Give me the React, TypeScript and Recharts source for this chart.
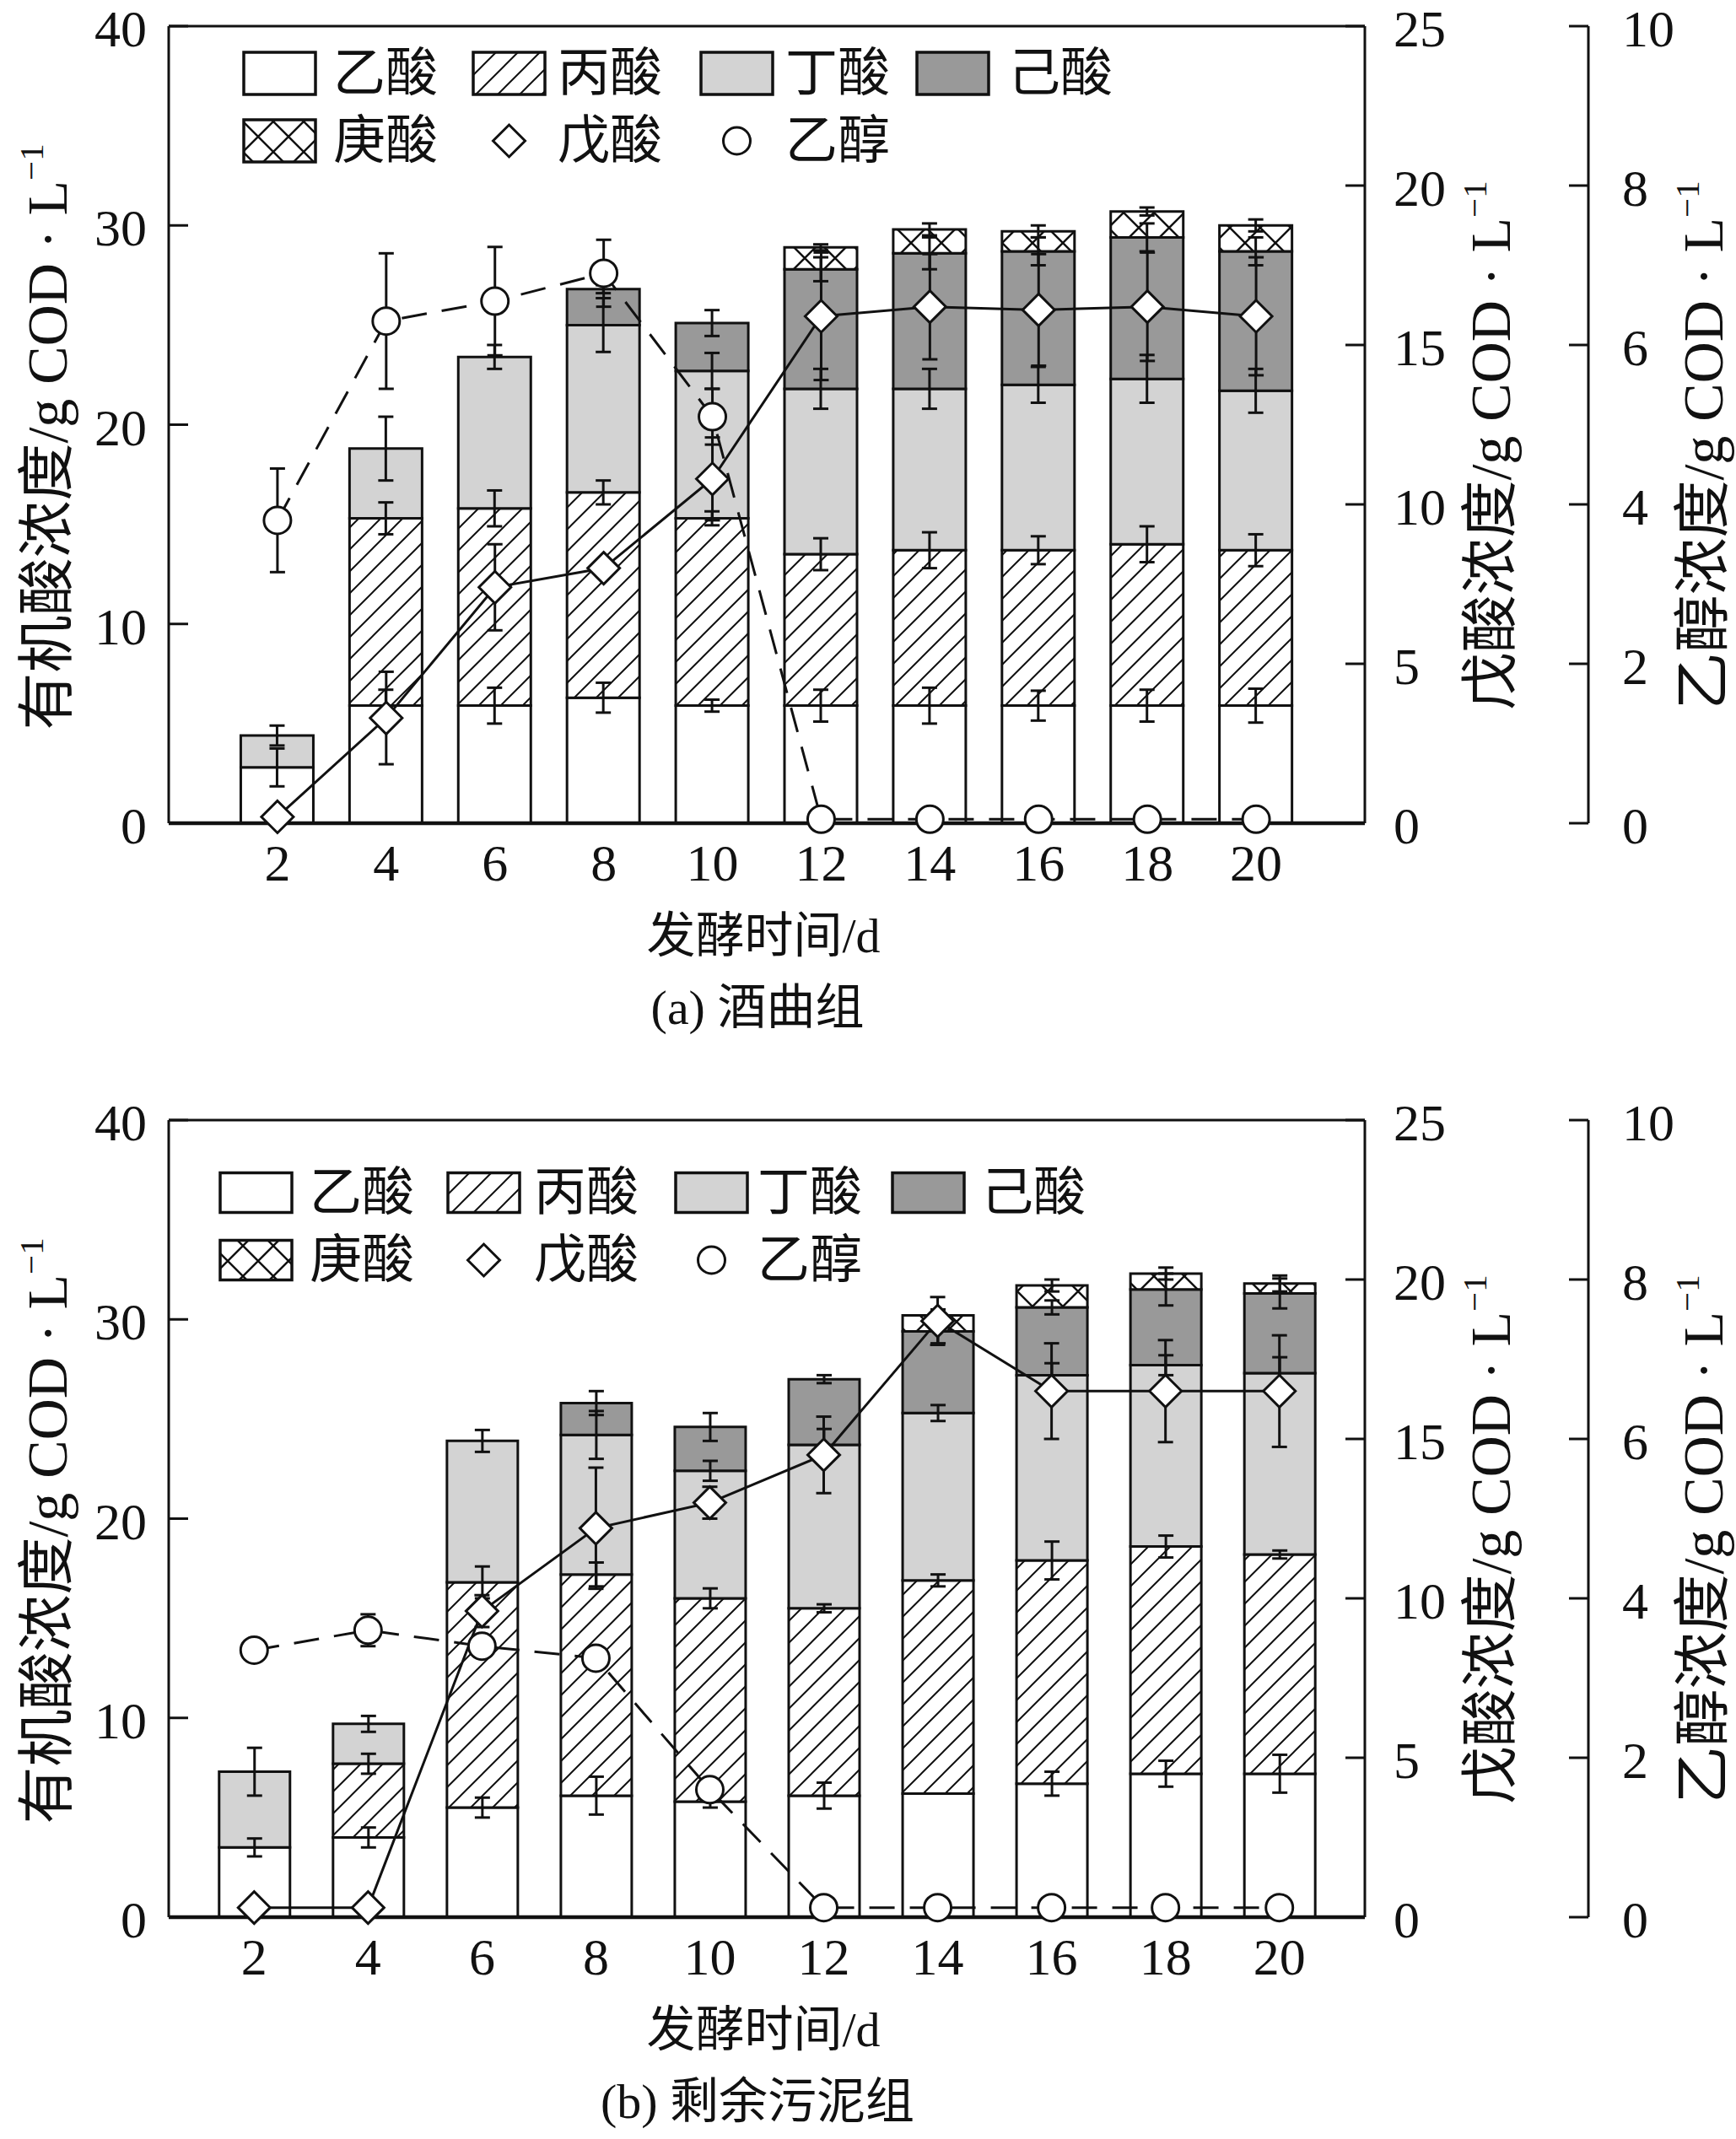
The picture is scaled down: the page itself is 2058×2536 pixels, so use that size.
import React from "react";
import {
  Bar,
  ComposedChart,
  ErrorBar,
  Line,
  ReferenceLine,
  XAxis,
  YAxis,
} from "recharts";

// fermentation days (x axis)
const days = [2, 4, 6, 8, 10, 12, 14, 16, 18, 20];
const leftTicks = [0, 10, 20, 30, 40];
const valTicks = [0, 5, 10, 15, 20, 25];
const ethTicks = [0, 2, 4, 6, 8, 10];
const seriesNames = ["乙酸", "丙酸", "丁酸", "己酸", "庚酸", "戊酸", "乙醇"];

// (a) 酒曲组
const aAcetic = [2.8, 5.9, 5.9, 6.3, 5.9, 5.9, 5.9, 5.9, 5.9, 5.9];
const aAceticErr = [0.95, 0.8, 0.9, 0.75, 0.3, 0.8, 0.9, 0.75, 0.8, 0.85];
const aPropionic = [0, 9.4, 9.9, 10.3, 9.4, 7.6, 7.8, 7.8, 8.1, 7.8];
const aPropionicErr = [0, 0.8, 0.9, 0.6, 0.35, 0.8, 0.9, 0.7, 0.9, 0.8];
const aButyric = [1.6, 3.5, 7.6, 8.4, 7.4, 8.3, 8.1, 8.3, 8.3, 8.0];
const aButyricErr = [0.5, 1.6, 0.6, 1.35, 0.9, 1.0, 1.0, 0.9, 1.2, 1.1];
const aCaproic = [0, 0, 0, 1.8, 2.4, 6.0, 6.8, 6.7, 7.1, 7.0];
const aCaproicErr = [0, 0, 0, 0.2, 0.65, 0.6, 0.8, 0.7, 0.7, 0.7];
const aHeptanoic = [0, 0, 0, 0, 0, 1.1, 1.2, 1.0, 1.3, 1.3];
const aHeptanoicErr = [0, 0, 0, 0, 0, 0.15, 0.3, 0.3, 0.2, 0.3];
const aValerate = [0.2, 3.3, 7.4, 8.0, 10.8, 15.9, 16.2, 16.1, 16.2, 15.9];
const aValerateErr = [0, 1.45, 1.35, 0, 1.3, 2.0, 1.65, 1.75, 1.7, 1.85];
const aEthanol = [3.8, 6.3, 6.55, 6.9, 5.1, 0.05, 0.05, 0.05, 0.05, 0.05];
const aEthanolErr = [0.65, 0.85, 0.68, 0.42, 0.35, 0, 0, 0, 0, 0];

// (b) 剩余污泥组
const bAcetic = [3.5, 4.0, 5.5, 6.1, 5.8, 6.1, 6.2, 6.7, 7.2, 7.2];
const bAceticErr = [0.45, 0.5, 0.5, 0.95, 0.3, 0.65, 0, 0.6, 0.65, 0.95];
const bPropionic = [0, 3.7, 11.3, 11.1, 10.2, 9.4, 10.7, 11.2, 11.4, 11.0];
const bPropionicErr = [0, 0.5, 0.8, 0.6, 0.5, 0.2, 0.3, 0.95, 0.55, 0.2];
const bButyric = [3.8, 2.0, 7.1, 7.0, 6.4, 8.2, 8.4, 9.3, 9.1, 9.1];
const bButyricErr = [1.2, 0.4, 0.55, 1.2, 0.5, 0.8, 0.4, 0.6, 0.5, 0.8];
const bCaproic = [0, 0, 0, 1.6, 2.2, 3.3, 4.1, 3.4, 3.8, 4.0];
const bCaproicErr = [0, 0, 0, 0.6, 0.7, 0.2, 0.6, 0.35, 0.8, 0.75];
const bHeptanoic = [0, 0, 0, 0, 0, 0, 0.8, 1.1, 0.8, 0.5];
const bHeptanoicErr = [0, 0, 0, 0, 0, 0, 0.3, 0.3, 0.3, 0.4];
const bValerate = [0.3, 0.3, 9.6, 12.2, 13.0, 14.5, 18.7, 16.5, 16.5, 16.5];
const bValerateErr = [0, 0, 0.5, 1.9, 0.5, 1.2, 0.75, 1.5, 1.6, 1.75];
const bEthanol = [3.35, 3.6, 3.4, 3.25, 1.6, 0.12, 0.12, 0.12, 0.12, 0.12];
const bEthanolErr = [0, 0.2, 0, 0, 0, 0, 0, 0, 0, 0];

const SERIF = "'Liberation Serif', 'Times New Roman', 'Noto Sans CJK SC', serif";
const INK = "#111";
const TICK_LEN = 23;
const LEFT_MARGIN = 26;
const VAL_MARGIN = 34;
const ETH_MARGIN = 40;

type Series = number[];

function buildRows(
  acetic: Series, aceticErr: Series,
  propionic: Series, propionicErr: Series,
  butyric: Series, butyricErr: Series,
  caproic: Series, caproicErr: Series,
  heptanoic: Series, heptanoicErr: Series,
  valerate: Series, valerateErr: Series,
  ethanol: Series, ethanolErr: Series,
) {
  return days.map((day, i) => ({
    day,
    acetic: acetic[i], aceticErr: aceticErr[i],
    propionic: propionic[i], propionicErr: propionicErr[i],
    butyric: butyric[i], butyricErr: butyricErr[i],
    caproic: caproic[i], caproicErr: caproicErr[i],
    heptanoic: heptanoic[i], heptanoicErr: heptanoicErr[i],
    valerate: valerate[i], valerateErr: valerateErr[i],
    ethanol: ethanol[i], ethanolErr: ethanolErr[i],
  }));
}

const rowsA = buildRows(
  aAcetic, aAceticErr, aPropionic, aPropionicErr, aButyric, aButyricErr,
  aCaproic, aCaproicErr, aHeptanoic, aHeptanoicErr, aValerate, aValerateErr,
  aEthanol, aEthanolErr,
);
const rowsB = buildRows(
  bAcetic, bAceticErr, bPropionic, bPropionicErr, bButyric, bButyricErr,
  bCaproic, bCaproicErr, bHeptanoic, bHeptanoicErr, bValerate, bValerateErr,
  bEthanol, bEthanolErr,
);

// ticks point into the plot on every y axis
const LeftTick = (p: any) => {
  const ax = p.x + LEFT_MARGIN;
  return (
    <g>
      <line x1={ax} y1={p.y} x2={ax + TICK_LEN} y2={p.y} stroke={INK} strokeWidth={3} />
      <text x={p.x} y={p.y + 3} textAnchor="end" dominantBaseline="central" fontSize={62} fontFamily={SERIF} fill={INK}>
        {p.payload.value}
      </text>
    </g>
  );
};

const makeRightTick = (margin: number) => (p: any) => {
  const ax = p.x - margin;
  return (
    <g>
      <line x1={ax - TICK_LEN} y1={p.y} x2={ax} y2={p.y} stroke={INK} strokeWidth={3} />
      <text x={p.x} y={p.y + 3} textAnchor="start" dominantBaseline="central" fontSize={62} fontFamily={SERIF} fill={INK}>
        {p.payload.value}
      </text>
    </g>
  );
};
const ValTick = makeRightTick(VAL_MARGIN);
const EthTick = makeRightTick(ETH_MARGIN);

const Diamond = (p: any) => {
  if (p.cx == null || p.cy == null) return <g key={`d-${p.index}`} />;
  const s = 19;
  return (
    <path
      key={`d-${p.index}`}
      d={`M${p.cx},${p.cy - s}L${p.cx + s},${p.cy}L${p.cx},${p.cy + s}L${p.cx - s},${p.cy}Z`}
      fill="#fff"
      stroke={INK}
      strokeWidth={3}
    />
  );
};

const Patterns = ({ pid }: { pid: string }) => (
  <defs>
    <pattern id={`${pid}-hatch`} patternUnits="userSpaceOnUse" width={26} height={26}>
      <rect width={26} height={26} fill="#fff" />
      <path d="M0,26 L26,0 M-6,6 L6,-6 M20,32 L32,20" stroke={INK} strokeWidth={2} />
    </pattern>
    <pattern id={`${pid}-cross`} patternUnits="userSpaceOnUse" width={36} height={36}>
      <rect width={36} height={36} fill="#fff" />
      <path d="M0,0 L36,36 M0,36 L36,0" stroke={INK} strokeWidth={2.5} />
    </pattern>
  </defs>
);

type LegendLayout = { boxX: number[]; textX: number[]; rowY: number[]; boxH: number };

const LegendArt = ({ pid, lay }: { pid: string; lay: LegendLayout }) => {
  const fills = ["#fff", `url(#${pid}-hatch)`, "#d3d3d3", "#999"];
  const bw = 85;
  const h = lay.boxH;
  const txt = (x: number, y: number, s: string) => (
    <text x={x} y={y} dominantBaseline="central" fontSize={62} fontFamily={SERIF} fill={INK}>
      {s}
    </text>
  );
  const [r1, r2] = lay.rowY;
  return (
    <svg width={2058} height={300} style={{ position: "absolute", left: 0, top: 0, overflow: "visible" }}>
      {fills.map((f, i) => (
        <g key={i}>
          <rect x={lay.boxX[i]} y={r1 - h / 2} width={bw} height={h} fill={f} stroke={INK} strokeWidth={3.5} />
          {txt(lay.textX[i], r1, seriesNames[i])}
        </g>
      ))}
      <rect x={lay.boxX[0]} y={r2 - h / 2} width={bw} height={h} fill={`url(#${pid}-cross)`} stroke={INK} strokeWidth={3.5} />
      {txt(lay.textX[0], r2, seriesNames[4])}
      <Diamond cx={lay.boxX[1] + bw / 2} cy={r2} index={99} />
      {txt(lay.textX[1], r2, seriesNames[5])}
      <circle cx={lay.boxX[2] + bw / 2} cy={r2} r={16} fill="#fff" stroke={INK} strokeWidth={3} />
      {txt(lay.textX[2], r2, seriesNames[6])}
    </svg>
  );
};

const Title = ({ x, y, rotate, size, children }: any) => (
  <div
    style={{
      position: "absolute",
      left: x,
      top: y,
      transform: `translate(-50%, -50%)${rotate ? " rotate(-90deg)" : ""}`,
      whiteSpace: "nowrap",
      fontFamily: SERIF,
      fontSize: size,
      lineHeight: 1,
      color: INK,
    }}
  >
    {children}
  </div>
);

const unit = (
  <>
    /g COD · L<sup style={{ fontSize: "0.6em", verticalAlign: "0.7em" }}>−1</sup>
  </>
);

type PanelProps = {
  pid: string;
  rows: any[];
  xDomain: [number, number];
  top: number;
  barSize: number;
  legend: LegendLayout;
  caption: string;
};

const errProps = { width: 9, strokeWidth: 3, stroke: INK, direction: "y" as const };

const Panel = ({ pid, rows, xDomain, top, barSize, legend, caption }: PanelProps) => (
  <div style={{ position: "absolute", left: 0, top, width: 2058, height: 1250 }}>
    <ComposedChart width={2058} height={1100} data={rows} margin={{ top: 31, right: 0, bottom: 64, left: 0 }}>
      <Patterns pid={pid} />
      <XAxis
        type="number"
        dataKey="day"
        domain={xDomain}
        ticks={days}
        interval={0}
        height={60}
        tickSize={0}
        tickMargin={24}
        tickLine={false}
        axisLine={{ stroke: INK, strokeWidth: 4.5 }}
        tick={{ fontSize: 62, fill: INK, fontFamily: SERIF }}
      />
      <YAxis
        yAxisId="left"
        orientation="left"
        width={200}
        domain={[0, 40]}
        ticks={leftTicks}
        interval={0}
        tickSize={0}
        tickMargin={LEFT_MARGIN}
        tickLine={false}
        axisLine={{ stroke: INK, strokeWidth: 3 }}
        tick={LeftTick}
      />
      <YAxis
        yAxisId="r2"
        orientation="right"
        width={175}
        domain={[0, 10]}
        ticks={ethTicks}
        interval={0}
        tickSize={0}
        tickMargin={ETH_MARGIN}
        tickLine={false}
        axisLine={{ stroke: INK, strokeWidth: 3 }}
        tick={EthTick}
      />
      <YAxis
        yAxisId="r1"
        orientation="right"
        width={265}
        domain={[0, 25]}
        ticks={valTicks}
        interval={0}
        tickSize={0}
        tickMargin={VAL_MARGIN}
        tickLine={false}
        axisLine={{ stroke: INK, strokeWidth: 3 }}
        tick={ValTick}
      />
      <ReferenceLine yAxisId="left" y={40} stroke={INK} strokeWidth={3} />

      <Bar yAxisId="left" dataKey="acetic" stackId="s" barSize={barSize} fill="#fff" stroke={INK} strokeWidth={3} isAnimationActive={false}>
        <ErrorBar dataKey="aceticErr" {...errProps} />
      </Bar>
      <Bar yAxisId="left" dataKey="propionic" stackId="s" barSize={barSize} fill={`url(#${pid}-hatch)`} stroke={INK} strokeWidth={3} isAnimationActive={false}>
        <ErrorBar dataKey="propionicErr" {...errProps} />
      </Bar>
      <Bar yAxisId="left" dataKey="butyric" stackId="s" barSize={barSize} fill="#d3d3d3" stroke={INK} strokeWidth={3} isAnimationActive={false}>
        <ErrorBar dataKey="butyricErr" {...errProps} />
      </Bar>
      <Bar yAxisId="left" dataKey="caproic" stackId="s" barSize={barSize} fill="#999" stroke={INK} strokeWidth={3} isAnimationActive={false}>
        <ErrorBar dataKey="caproicErr" {...errProps} />
      </Bar>
      <Bar yAxisId="left" dataKey="heptanoic" stackId="s" barSize={barSize} fill={`url(#${pid}-cross)`} stroke={INK} strokeWidth={3} isAnimationActive={false}>
        <ErrorBar dataKey="heptanoicErr" {...errProps} />
      </Bar>

      <Line
        yAxisId="r2"
        dataKey="ethanol"
        stroke={INK}
        strokeWidth={3}
        strokeDasharray="30 18"
        dot={{ r: 16, fill: "#fff", stroke: INK, strokeWidth: 3, strokeDasharray: "0" }}
        activeDot={false}
        isAnimationActive={false}
      >
        <ErrorBar dataKey="ethanolErr" {...errProps} />
      </Line>
      <Line
        yAxisId="r1"
        dataKey="valerate"
        stroke={INK}
        strokeWidth={3}
        dot={Diamond}
        activeDot={false}
        isAnimationActive={false}
      >
        <ErrorBar dataKey="valerateErr" {...errProps} />
      </Line>
    </ComposedChart>

    <LegendArt pid={pid} lay={legend} />

    <Title x={54} y={518} rotate size={68}>有机酸浓度{unit}</Title>
    <Title x={1765} y={528} rotate size={68}>戊酸浓度{unit}</Title>
    <Title x={2017} y={528} rotate size={68}>乙醇浓度{unit}</Title>
    <Title x={905} y={1110} size={58}>发酵时间/d</Title>
    <Title x={898} y={1195} size={58}>{caption}</Title>
  </div>
);

const legendA: LegendLayout = {
  boxX: [289, 561, 831, 1087],
  textX: [395, 661, 931, 1195],
  rowY: [87, 167],
  boxH: 50,
};
const legendB: LegendLayout = {
  boxX: [261, 531, 801, 1058],
  textX: [367, 633, 898, 1163],
  rowY: [117, 197],
  boxH: 47,
};

export default function App() {
  return (
    <div style={{ position: "absolute", left: 0, top: 0, width: 2058, height: 2536, background: "#fff" }}>
      <Panel pid="pa" rows={rowsA} xDomain={[0, 22]} top={0} barSize={86} legend={legendA} caption="(a) 酒曲组" />
      <Panel pid="pb" rows={rowsB} xDomain={[0.5, 21.5]} top={1297} barSize={84} legend={legendB} caption="(b) 剩余污泥组" />
    </div>
  );
}
